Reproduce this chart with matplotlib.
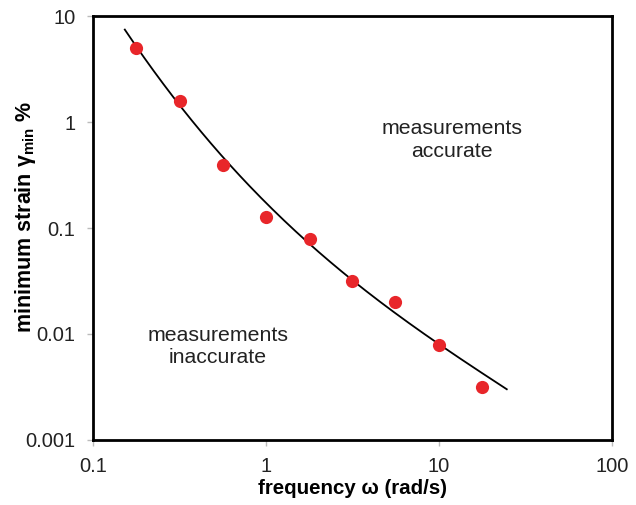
import numpy as np
import matplotlib
matplotlib.use("Agg")
import matplotlib.pyplot as plt

plt.rcParams['font.family'] = ['Liberation Sans', 'DejaVu Sans']

# measured minimum strain vs frequency
freq = [0.178, 0.318, 0.564, 1.0, 1.80, 3.14, 5.57, 10.0, 17.8]
strain_min = [5.0, 1.58, 0.393, 0.127, 0.0787, 0.0316, 0.020, 0.00787, 0.00316]

# trend line
curve_freq = [0.153, 0.318, 0.564, 1.0, 1.77, 3.14, 10.0, 24.7]
curve_strain = [7.38, 1.55, 0.42, 0.172, 0.0787, 0.0316, 0.00787, 0.00303]

x_ticks = [0.1, 1, 10, 100]
x_ticklabels = ['0.1', '1', '10', '100']
y_ticks = [0.001, 0.01, 0.1, 1, 10]
y_ticklabels = ['0.001', '0.01', '0.1', '1', '10']

fig = plt.figure(figsize=(6.36, 5.05), dpi=100)
ax = fig.add_axes([0.146, 0.129, 0.816, 0.839])

# smooth the read trend with a cubic in log-log space
coef = np.polyfit(np.log10(curve_freq), np.log10(curve_strain), 3)
u = np.linspace(np.log10(curve_freq[0]), np.log10(curve_freq[-1]), 200)
ax.plot(10**u, 10**np.polyval(coef, u), color='black', lw=1.3, zorder=2)

ax.plot(freq, strain_min, 'o', color='#e8262a', markersize=9.5,
        markeredgewidth=0, zorder=3)

ax.set_xscale('log')
ax.set_yscale('log')
ax.set_xlim(0.1, 100)
ax.set_ylim(0.001, 10)
ax.set_xticks(x_ticks)
ax.set_xticklabels(x_ticklabels)
ax.set_yticks(y_ticks)
ax.set_yticklabels(y_ticklabels)
ax.minorticks_off()
ax.tick_params(axis='both', which='major', direction='out', length=4.5,
               width=1, color='#bbbbbb', labelsize=14.5, labelcolor='#222222',
               pad=8)

for s in ax.spines.values():
    s.set_linewidth(2)
    s.set_color('black')

ax.set_xlabel('frequency \u03c9 (rad/s)', fontsize=14.8, fontweight='bold',
              labelpad=2)
ax.set_ylabel('minimum strain \u03b3$_{\\mathregular{min}}$ %', fontsize=15.5,
              fontweight='bold')
ax.yaxis.set_label_coords(-0.105, 0.525)

ax.text(11.9, 0.68, 'measurements\naccurate', ha='center', va='center',
        fontsize=15.3, color='#222222', linespacing=1.25)
ax.text(0.528, 0.0076, 'measurements\ninaccurate', ha='center', va='center',
        fontsize=15.3, color='#222222', linespacing=1.25)

fig.savefig('out.png', dpi=100)
